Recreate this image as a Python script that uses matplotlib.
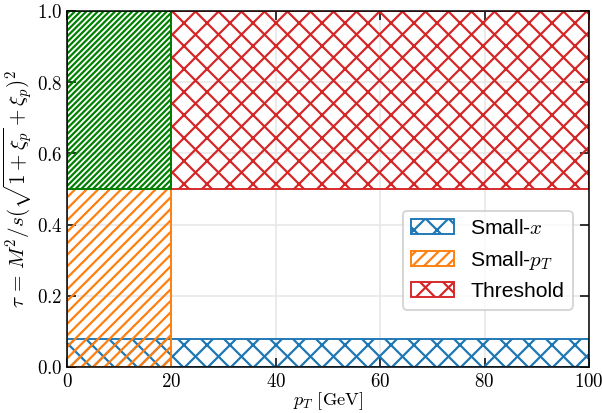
import numpy as np
from matplotlib import pyplot as plt

# kinematic regions (pT in GeV, tau)
names = ['Small-$x$', 'Small-$p_T$', 'Threshold', '_overlap']
pt_lo = [0, 0, 20, 0]
pt_hi = [100, 20, 100, 20]
tau_lo = [0.0, 0.0, 0.5, 0.5]
tau_hi = [0.08, 0.5, 1.0, 1.0]

xticks = [0, 20, 40, 60, 80, 100]
yticks = [0.0, 0.2, 0.4, 0.6, 0.8, 1.0]

colors = ['#1f77b4', '#ff7f0e', '#d62728', 'green']
hatches = ['xx', '////', 'xx', '////////']

DPI = 138
plt.rcParams['mathtext.fontset'] = 'cm'
plt.rcParams['hatch.linewidth'] = 1.15

fig = plt.figure(figsize=(602.0 / DPI, 413.0 / DPI), dpi=DPI)
ax = fig.add_axes([67 / 602., 1 - 367 / 413., 522 / 602., 356 / 413.])

for i in range(len(names)):
    ax.fill_between([pt_lo[i], pt_hi[i]], tau_lo[i], tau_hi[i],
                    facecolor='none', edgecolor=colors[i], hatch=hatches[i],
                    linewidth=1.0, label=names[i], zorder=2)

ax.set_xlim(0, 100)
ax.set_ylim(0, 1)
ax.set_xticks(xticks)
ax.set_yticks(yticks)
ax.set_xticklabels(['$%d$' % v for v in xticks])
ax.set_yticklabels(['$%.1f$' % v for v in yticks])
ax.tick_params(direction='in', top=True, right=True, length=4.7, width=0.8,
               labelsize=9.9, pad=2.5)
ax.grid(True, color='0.9', linewidth=0.8, zorder=0)
ax.set_axisbelow(True)
for sp in ax.spines.values():
    sp.set_linewidth(0.8)

ax.set_xlabel(r'$p_T\ \mathrm{[GeV]}$', fontsize=9.6, labelpad=0)
ax.set_ylabel(r'$\tau\,=\,M^2/s(\sqrt{1+\xi_p}+\xi_p)^2$', fontsize=11, labelpad=1)

leg = ax.legend(loc='center right', bbox_to_anchor=(0.989, 0.30),
                prop={'family': 'Liberation Sans', 'size': 11}, framealpha=0.8)

plt.savefig('out.png', dpi=DPI)
